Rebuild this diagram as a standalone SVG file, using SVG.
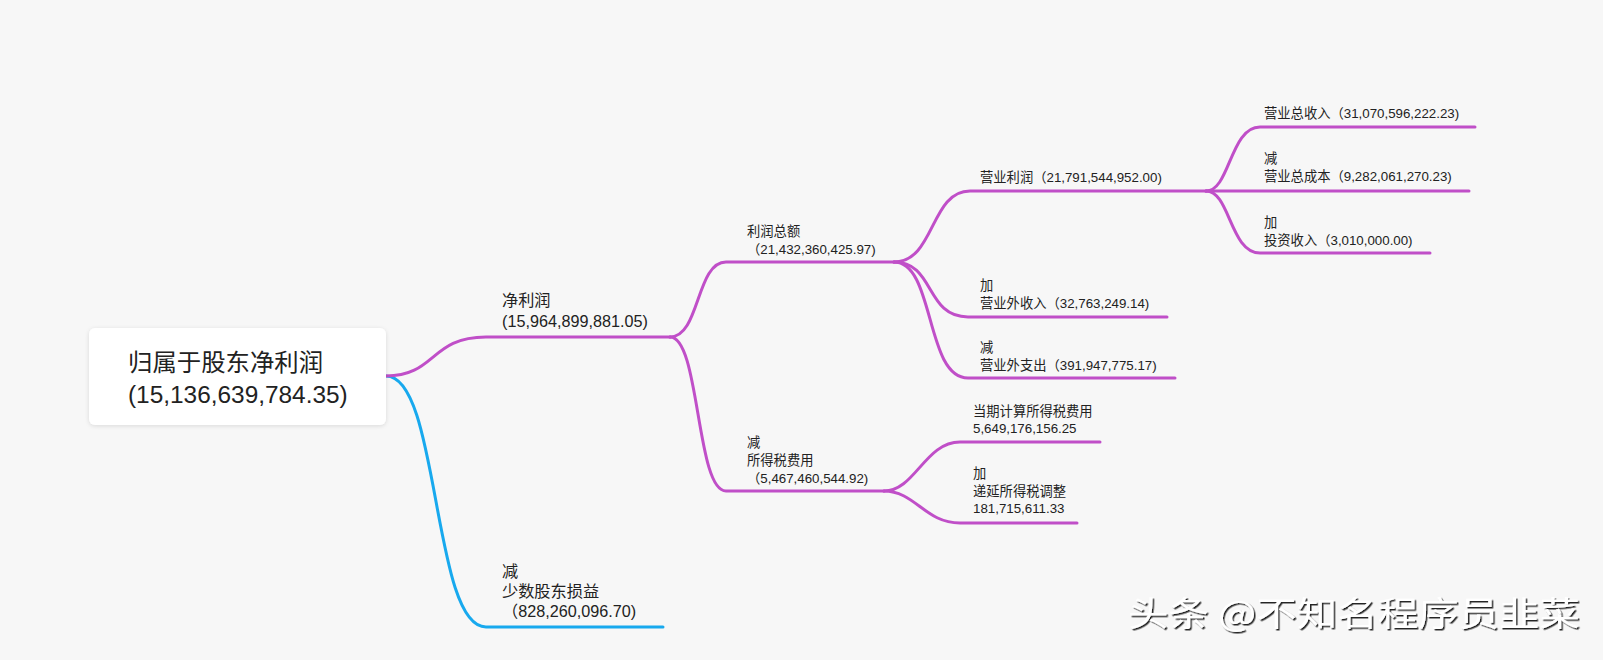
<svg xmlns="http://www.w3.org/2000/svg" width="1603" height="660" viewBox="0 0 1603 660">
<defs>
<filter id="sh" x="-10%" y="-20%" width="120%" height="140%">
<feDropShadow dx="0" dy="1" stdDeviation="2" flood-color="#000" flood-opacity="0.12"/>
</filter>
<filter id="wsh" x="-5%" y="-30%" width="110%" height="160%">
<feDropShadow dx="1.5" dy="1.5" stdDeviation="0.6" flood-color="#111" flood-opacity="0.9"/>
</filter>
<style>
.t{font-family:"Liberation Sans","Noto Sans CJK SC",sans-serif;fill:#222;}
.s13{font-size:13.3px;}
.s16{font-size:16.2px;}
.s24{font-size:24.4px;}
.p{fill:none;stroke:#c04fc8;stroke-width:3;stroke-linecap:round;}
.b{fill:none;stroke:#18a9ee;stroke-width:3;stroke-linecap:round;}
.wm{font-family:"Noto Sans CJK SC","Liberation Sans",sans-serif;font-size:34px;fill:#fff;}
</style>
</defs>
<rect width="1603" height="660" fill="#f7f7f7"/>
<g id="connectors">
<path class="b" d="M386,376 C440,376 432,627 486,627 L663,627"/>
<path class="p" d="M386,376 C436,376 430,337 486,337 L670,337"/>
<path class="p" d="M670,337 C700,337 696,262 726,262 L894,262"/>
<path class="p" d="M670,337 C700,337 696,491 726,491 L884,491"/>
<path class="p" d="M894,262 C935,262 930,191 970,191 L1206,191"/>
<path class="p" d="M894,262 C935,262 925,317 968,317 L1167,317"/>
<path class="p" d="M894,262 C935,262 925,378 968,378 L1175,378"/>
<path class="p" d="M1206,191 C1230,191 1230,127 1260,127 L1475,127"/>
<path class="p" d="M1206,191 L1469,191"/>
<path class="p" d="M1206,191 C1230,191 1230,253 1260,253 L1430,253"/>
<path class="p" d="M884,491 C915,491 925,442 960,442 L1100,442"/>
<path class="p" d="M884,491 C915,491 925,523 960,523 L1077,523"/>
</g>
<g id="root">
<rect x="89" y="328" width="297" height="97" rx="6" fill="#fff" filter="url(#sh)"/>
<text class="t s24" x="128" y="371">归属于股东净利润</text>
<text class="t s24" x="128" y="403">(15,136,639,784.35)</text>
</g>
<g id="n-jlr">
<text class="t s16" x="502" y="306">净利润</text>
<text class="t s16" x="502" y="327">(15,964,899,881.05)</text>
</g>
<g id="n-lrze">
<text class="t s13" x="747" y="236">利润总额</text>
<text class="t s13" x="747" y="254">（21,432,360,425.97)</text>
</g>
<g id="n-yylr">
<text class="t s13" x="980" y="182">营业利润（21,791,544,952.00)</text>
</g>
<g id="n-yyzsr">
<text class="t s13" x="1264" y="118">营业总收入（31,070,596,222.23)</text>
</g>
<g id="n-yyzcb">
<text class="t s13" x="1264" y="163">减</text>
<text class="t s13" x="1264" y="181">营业总成本（9,282,061,270.23)</text>
</g>
<g id="n-tzsr">
<text class="t s13" x="1264" y="227">加</text>
<text class="t s13" x="1264" y="245">投资收入（3,010,000.00)</text>
</g>
<g id="n-yywsr">
<text class="t s13" x="980" y="290">加</text>
<text class="t s13" x="980" y="308">营业外收入（32,763,249.14)</text>
</g>
<g id="n-yywzc">
<text class="t s13" x="980" y="352">减</text>
<text class="t s13" x="980" y="370">营业外支出（391,947,775.17)</text>
</g>
<g id="n-sdsfy">
<text class="t s13" x="747" y="447">减</text>
<text class="t s13" x="747" y="465">所得税费用</text>
<text class="t s13" x="747" y="483">（5,467,460,544.92)</text>
</g>
<g id="n-dqjs">
<text class="t s13" x="973" y="416">当期计算所得税费用</text>
<text class="t s13" x="973" y="433">5,649,176,156.25</text>
</g>
<g id="n-dysd">
<text class="t s13" x="973" y="478">加</text>
<text class="t s13" x="973" y="496">递延所得税调整</text>
<text class="t s13" x="973" y="513">181,715,611.33</text>
</g>
<g id="n-ssgd">
<text class="t s16" x="502" y="577">减</text>
<text class="t s16" x="502" y="597">少数股东损益</text>
<text class="t s16" x="502" y="617">（828,260,096.70)</text>
</g>
<text class="wm" x="1128" y="626" textLength="452" lengthAdjust="spacingAndGlyphs" filter="url(#wsh)">头条 @不知名程序员韭菜</text>
</svg>
